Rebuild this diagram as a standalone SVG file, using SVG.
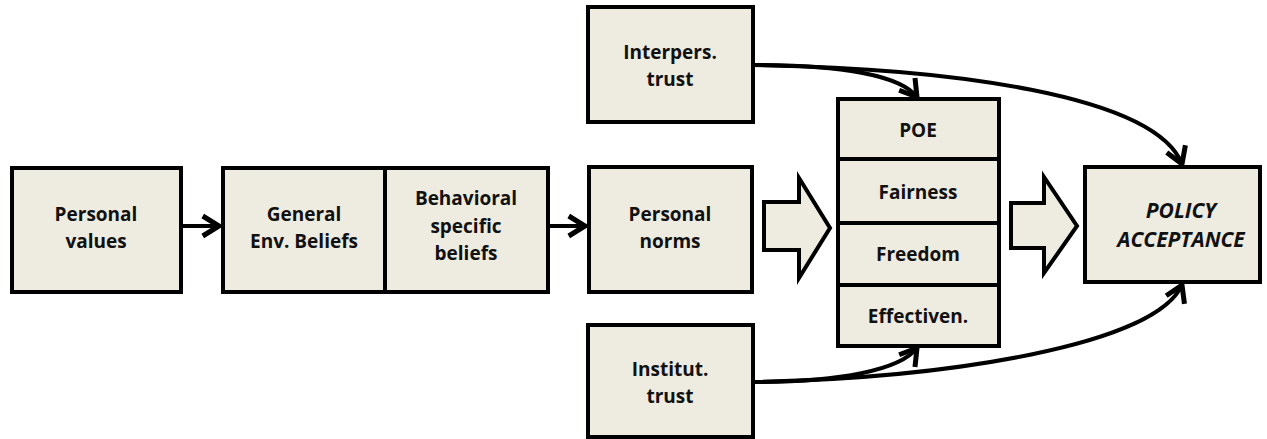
<svg xmlns="http://www.w3.org/2000/svg" width="1267" height="439" viewBox="0 0 1267 439">
<style>
.box{fill:#EEEBE0;stroke:#000;stroke-width:4}
.t{font-family:"Open Sans","Liberation Sans",sans-serif;font-weight:bold;font-size:19px;text-anchor:middle;fill:#111}
.it{font-style:italic;font-size:21px}
.c{fill:none;stroke:#000;stroke-width:4}
</style>
<defs>
<marker id="ah" markerUnits="userSpaceOnUse" markerWidth="30" markerHeight="30" viewBox="-16 -12 20 24" refX="0" refY="0" orient="auto">
<path d="M-13,-8 L0,0 L-13,8" fill="none" stroke="#000" stroke-width="4" stroke-linejoin="miter"/>
</marker>
</defs>
<g id="personal-values"><rect class="box" x="12" y="168" width="169" height="124"/><text class="t" x="96" y="221">Personal</text><text class="t" x="96" y="248">values</text></g>
<g id="general-env-beliefs"><rect class="box" x="223" y="168" width="162" height="124"/><text class="t" x="304" y="221">General</text><text class="t" x="304" y="248">Env. Beliefs</text></g>
<g id="behavioral-beliefs"><rect class="box" x="385" y="168" width="163" height="124"/><text class="t" x="466" y="205">Behavioral</text><text class="t" x="466" y="233">specific</text><text class="t" x="466" y="260">beliefs</text></g>
<g id="personal-norms"><rect class="box" x="589" y="167" width="163" height="125"/><text class="t" x="670" y="221">Personal</text><text class="t" x="670" y="248">norms</text></g>
<g id="interpers-trust"><rect class="box" x="588" y="7" width="165" height="115"/><text class="t" x="670" y="59">Interpers.</text><text class="t" x="670" y="86">trust</text></g>
<g id="institut-trust"><rect class="box" x="588" y="325" width="165" height="112"/><text class="t" x="670" y="376">Institut.</text><text class="t" x="670" y="403">trust</text></g>
<g id="stack">
<rect class="box" x="838" y="99" width="161" height="60"/><text class="t" x="918" y="137">POE</text>
<rect class="box" x="838" y="159" width="161" height="64"/><text class="t" x="918" y="199">Fairness</text>
<rect class="box" x="838" y="223" width="161" height="62"/><text class="t" x="918" y="261">Freedom</text>
<rect class="box" x="838" y="285" width="161" height="61"/><text class="t" x="918" y="323">Effectiven.</text>
</g>
<g id="policy-acceptance"><rect class="box" x="1085" y="167" width="175" height="115"/><text class="t it" x="1181" y="218">POLICY</text><text class="t it" x="1181" y="247">ACCEPTANCE</text></g>
<g id="fat-arrow-1"><path class="box" d="M764,202 L799,202 L799,178 L830,228 L799,278 L799,250 L764,250 Z"/></g>
<g id="fat-arrow-2"><path class="box" d="M1011,203 L1044,203 L1044,177 L1077,226 L1044,273 L1044,248 L1011,248 Z"/></g>
<g id="connectors">
<line class="c" x1="181" y1="226" x2="219" y2="226" marker-end="url(#ah)"/>
<line class="c" x1="548" y1="226" x2="585" y2="226" marker-end="url(#ah)"/>
<path class="c" d="M753,65 C840,65 900,75 917,97" marker-end="url(#ah)"/>
<path class="c" d="M753,65 C950,68 1155,95 1182,164" marker-end="url(#ah)"/>
<path class="c" d="M753,382 C840,382 900,370 917,348" marker-end="url(#ah)"/>
<path class="c" d="M753,382 C950,378 1155,345 1182,285" marker-end="url(#ah)"/>
</g>
</svg>
